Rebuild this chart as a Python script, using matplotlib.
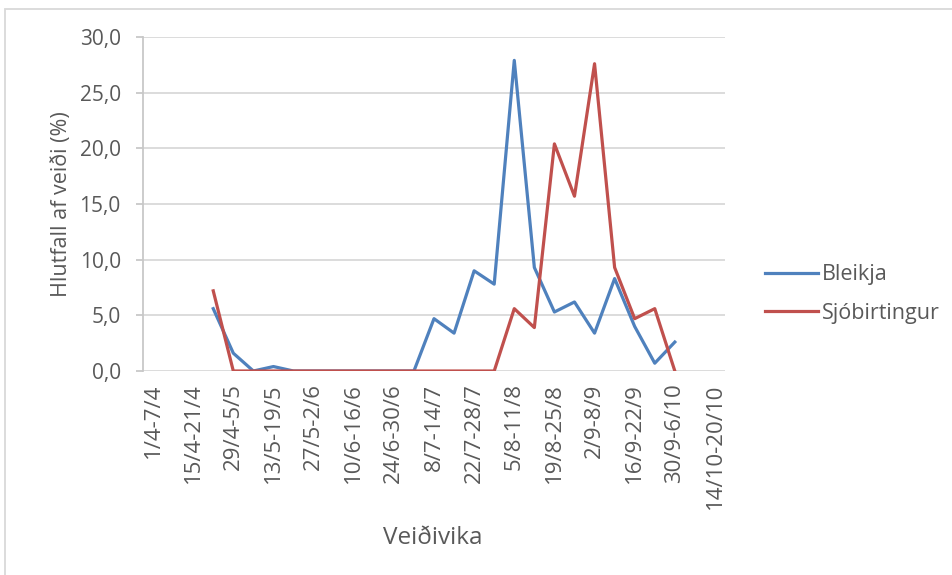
import numpy as np
import matplotlib
matplotlib.use("Agg")
import matplotlib.pyplot as plt
from matplotlib.patches import Rectangle
from matplotlib.ticker import FuncFormatter

# Weekly categories (Veiðivika)
weeks = [
    "1/4-7/4", "8/4-14/4", "15/4-21/4", "22/4-28/4", "29/4-5/5",
    "6/5-12/5", "13/5-19/5", "20/5-26/5", "27/5-2/6", "3/6-9/6",
    "10/6-16/6", "17/6-23/6", "24/6-30/6", "1/7-7/7", "8/7-14/7",
    "15/7-21/7", "22/7-28/7", "29/7-4/8", "5/8-11/8", "12/8-18/8",
    "19/8-25/8", "26/8-1/9", "2/9-8/9", "9/9-15/9", "16/9-22/9",
    "23/9-29/9", "30/9-6/10", "7/10-13/10", "14/10-20/10",
]

nan = np.nan
bleikja = [nan, nan, nan, 5.6, 1.6, 0.0, 0.4, 0.0, 0.0, 0.0,
           0.0, 0.0, 0.0, 0.0, 4.7, 3.4, 9.0, 7.8, 27.9, 9.3,
           5.3, 6.2, 3.4, 8.3, 4.0, 0.7, 2.6, nan, nan]
sjobirtingur = [nan, nan, nan, 7.2, 0.0, 0.0, 0.0, 0.0, 0.0, 0.0,
                0.0, 0.0, 0.0, 0.0, 0.0, 0.0, 0.0, 0.0, 5.6, 3.9,
                20.4, 15.7, 27.6, 9.3, 4.7, 5.6, 0.0, nan, nan]

text_col = "#595959"
grid_col = "#D9D9D9"
W, H = 952, 575

plt.rcParams["font.family"] = ["Open Sans", "DejaVu Sans"]

fig = plt.figure(figsize=(W / 100, H / 100), dpi=100)
ax = fig.add_axes([143 / W, 1 - 371 / H, (725 - 143) / W, (371 - 37) / H])

# Outer chart frame (only left and top edges show in the picture)
fig.patches.append(Rectangle((5 / W, -0.05), 1.2, 1 - 9 / H + 0.05,
                             transform=fig.transFigure, fill=False,
                             edgecolor=grid_col, linewidth=1.3))

x = np.arange(len(weeks))
ax.plot(x, bleikja, color="#4F81BD", linewidth=2.3, label="Bleikja")
ax.plot(x, sjobirtingur, color="#C0504D", linewidth=2.3, label="Sjóbirtingur")

ax.set_xlim(-0.5, len(weeks) - 0.5)
ax.set_ylim(0, 30)
ax.set_yticks(np.arange(0, 31, 5))
ax.yaxis.set_major_formatter(FuncFormatter(lambda v, p: f"{v:.1f}".replace(".", ",")))
ax.yaxis.grid(True, color=grid_col, linewidth=1.3)
ax.set_axisbelow(True)

ax.set_xticks(x[::2])
ax.set_xticklabels(weeks[::2], rotation=90, fontsize=16, color=text_col)
ax.tick_params(axis="x", length=0, pad=9)
ax.tick_params(axis="y", labelsize=15, labelcolor=text_col, color="#C8C8C8",
               length=5, width=1.3, pad=11)

for side in ["top", "right", "bottom"]:
    ax.spines[side].set_visible(False)
ax.spines["left"].set_color("#C8C8C8")
ax.spines["left"].set_linewidth(1.3)

ax.set_ylabel("Hlutfall af veiði (%)", fontsize=15.5, color=text_col)
ax.yaxis.set_label_coords((72 - 143) / 582, 0.5)
ax.set_xlabel("Veiðivika", fontsize=17.5, color=text_col)
ax.xaxis.set_label_coords(0.497, (371 - 526) / 334)

fig.legend(*ax.get_legend_handles_labels(), loc="center left",
           bbox_to_anchor=(765 / W, 1 - 294 / H), frameon=False,
           fontsize=15.5, labelcolor=text_col, handlelength=2.45,
           handletextpad=0.2, labelspacing=0.8, borderpad=0,
           borderaxespad=0)

fig.savefig("out.png", dpi=100)
